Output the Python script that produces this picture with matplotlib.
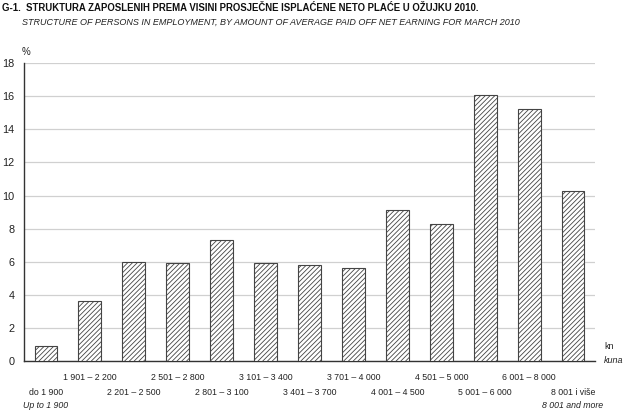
import matplotlib
matplotlib.use("Agg")
import matplotlib.pyplot as plt

# share of persons in employment by average net earning class, March 2010 (%)
classes_hr = ["do 1 900", "1 901 – 2 200", "2 201 – 2 500", "2 501 – 2 800",
              "2 801 – 3 100", "3 101 – 3 400", "3 401 – 3 700", "3 701 – 4 000",
              "4 001 – 4 500", "4 501 – 5 000", "5 001 – 6 000", "6 001 – 8 000",
              "8 001 i više"]
classes_en = {0: "Up to 1 900", 12: "8 001 and more"}
shares = [0.9, 3.6, 6.0, 5.9, 7.3, 5.9, 5.8, 5.6, 9.1, 8.3, 16.1, 15.2, 10.3]
y_ticks = [0, 2, 4, 6, 8, 10, 12, 14, 16, 18]

plt.rcParams["font.family"] = ["Liberation Sans", "DejaVu Sans"]
plt.rcParams["hatch.color"] = "#555555"
plt.rcParams["hatch.linewidth"] = 0.6

fig = plt.figure(figsize=(6.24, 4.12), dpi=100)
ax = fig.add_axes([0.0385, 0.1238, 0.915, 0.723])

x = list(range(len(shares)))
ax.bar(x, shares, width=0.52, color="white", edgecolor="#444444",
       linewidth=0.8, hatch="///////", zorder=3)

ax.set_xlim(-0.5, len(shares) - 0.5)
ax.set_ylim(0, 18)
ax.set_yticks(y_ticks)
ax.yaxis.grid(True, color="#d0d0d0", linewidth=0.9, zorder=0)
ax.tick_params(axis="y", length=0, pad=7, labelsize=7.8, labelcolor="#222222")
ax.set_xticks([])

for s in ["top", "right"]:
    ax.spines[s].set_visible(False)
ax.spines["left"].set_color("#333333")
ax.spines["bottom"].set_color("#333333")
ax.spines["left"].set_linewidth(1.0)
ax.spines["bottom"].set_linewidth(1.0)

# staggered category labels under the bars
tr = ax.get_xaxis_transform()
for i, lab in enumerate(classes_hr):
    yy = -0.054 if i % 2 == 1 else -0.107
    ax.text(i, yy, lab, transform=tr, ha="center", va="center", fontsize=6.3, color="#222222")
for i, lab in classes_en.items():
    ax.text(i, -0.148, lab, transform=tr, ha="center", va="center", fontsize=6.3,
            style="italic", color="#222222")

fig.text(0.003, 0.98, "G-1.  STRUKTURA ZAPOSLENIH PREMA VISINI PROSJEČNE ISPLAĆENE NETO PLAĆE U OŽUJKU 2010.",
         ha="left", va="center", fontsize=6.9, fontweight="bold", color="#111111")
fig.text(0.035, 0.946, "STRUCTURE OF PERSONS IN EMPLOYMENT, BY AMOUNT OF AVERAGE PAID OFF NET EARNING FOR MARCH 2010",
         ha="left", va="center", fontsize=6.5, style="italic", color="#222222")
fig.text(0.035, 0.873, "%", ha="left", va="center", fontsize=7, color="#222222")
fig.text(0.968, 0.158, "kn", ha="left", va="center", fontsize=6.5, color="#222222")
fig.text(0.968, 0.126, "kuna", ha="left", va="center", fontsize=6.5, style="italic", color="#222222")

fig.savefig("out.png", dpi=100)
